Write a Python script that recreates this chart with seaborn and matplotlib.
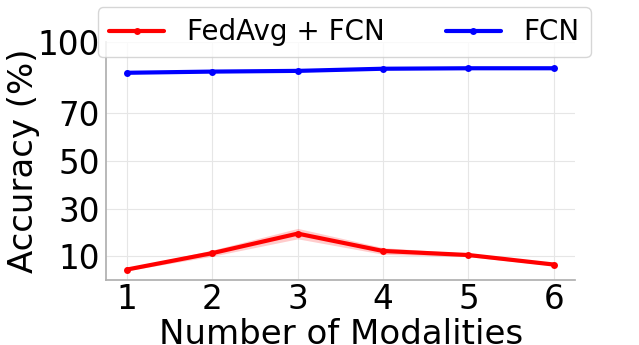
import numpy as np
import matplotlib
matplotlib.use("Agg")
import matplotlib.pyplot as plt
import seaborn as sns

# Data
modalities = [1, 2, 3, 4, 5, 6]
fedavg_fcn = [4.4, 11.3, 19.5, 12.2, 10.5, 6.5]
fedavg_fcn_err = [0.5, 1.3, 2.2, 1.4, 0.7, 0.5]
fcn = [87.1, 87.6, 87.9, 88.8, 89.0, 89.0]
fcn_err = [0.4, 0.4, 0.4, 0.4, 0.4, 0.4]
yticks = [10, 30, 50, 70, 100]

sns.set_theme(style="whitegrid")
plt.rcParams["font.family"] = ["DejaVu Sans"]
plt.rcParams["text.color"] = "black"
plt.rcParams["axes.labelcolor"] = "black"
plt.rcParams["xtick.color"] = "black"
plt.rcParams["ytick.color"] = "black"

fig, ax = plt.subplots(figsize=(6.39, 3.45), dpi=100)

x = np.array(modalities)
for vals, err, color, label in [
    (fedavg_fcn, fedavg_fcn_err, "red", "FedAvg + FCN"),
    (fcn, fcn_err, "blue", "FCN"),
]:
    vals = np.array(vals)
    err = np.array(err)
    sns.lineplot(x=x, y=vals, color=color, linewidth=3, marker="o",
                 markersize=5, markeredgewidth=0, label=label, ax=ax)
    ax.fill_between(x, vals - err, vals + err, color=color, alpha=0.2, linewidth=0)

ax.set_xlim(0.75, 6.25)
ax.set_ylim(0, 100)
ax.set_xticks(modalities)
ax.set_yticks(yticks)
ax.tick_params(axis="both", length=0)
ax.tick_params(axis="x", labelsize=23.5, pad=2)
ax.tick_params(axis="y", labelsize=23.5, pad=4)
ax.set_xlabel("Number of Modalities", fontsize=24.5)
ax.set_ylabel("Accuracy (%)", fontsize=24.5)
ax.xaxis.set_label_coords(0.501, -0.158)
ax.yaxis.set_label_coords(-0.14, 0.5)
ax.grid(True, color="#e6e6e6", linewidth=0.8)
sns.despine(ax=ax)
for s in ["left", "bottom"]:
    ax.spines[s].set_color("#b0b0b0")

ax.legend(loc="upper center", bbox_to_anchor=(0.508, 1.147), ncol=2,
          fontsize=20, frameon=True, handlelength=2.0, columnspacing=2.2,
          borderpad=0.4, borderaxespad=0)

fig.subplots_adjust(left=0.1654, right=0.9, bottom=0.1884, top=0.878)
fig.savefig("out.png", dpi=100)
